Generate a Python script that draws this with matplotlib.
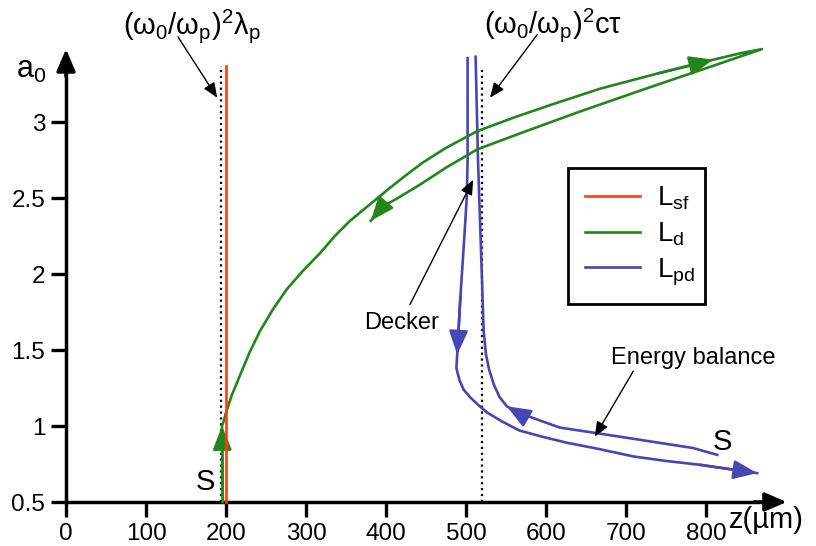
import matplotlib.pyplot as plt

plt.rcParams['font.family'] = ['Liberation Sans', 'DejaVu Sans']
plt.rcParams['mathtext.default'] = 'regular'

# axis ticks
x_ticks = [0, 100, 200, 300, 400, 500, 600, 700, 800]
y_ticks = [0.5, 1, 1.5, 2, 2.5, 3]
y_tick_labels = ['0.5', '1', '1.5', '2', '2.5', '3']

# L_sf (red) : vertical line at the self-focusing length
sf_z = [200, 200]
sf_a = [0.5, 3.37]

# dotted reference lines: (w0/wp)^2 lambda_p and (w0/wp)^2 c tau
ref1_z = [194, 194]
ref1_a = [0.5, 3.37]
ref2_z = [520, 520]
ref2_a = [0.5, 3.35]

# L_d (green) : goes up from S, out to the tip, and back
green_z = [196, 195, 197, 199, 207, 218, 230, 243, 259, 276, 296, 318, 336, 355, 378,
           401, 420, 445, 475, 514, 560, 610, 668, 740, 809, 845, 870,
           809, 725, 643, 575, 514, 475, 443, 418, 395, 381]
green_a = [0.5, 1.00, 1.03, 1.07, 1.20, 1.34, 1.49, 1.63, 1.77, 1.90, 2.02, 2.14, 2.25, 2.35, 2.45,
           2.55, 2.63, 2.73, 2.83, 2.94, 3.03, 3.12, 3.22, 3.32, 3.41, 3.455, 3.48,
           3.37, 3.22, 3.07, 2.94, 2.82, 2.70, 2.59, 2.51, 2.44, 2.35]
green_heads = [1, 24, 36]

# L_pd (blue) : downward branch
pd1_z = [502, 502, 501, 498, 496, 493, 489, 488, 492, 497, 505, 515, 526, 545, 567, 595,
         626, 665, 709, 750, 792, 864]
pd1_a = [3.42, 2.75, 2.51, 2.25, 2.09, 1.85, 1.47, 1.38, 1.30, 1.24, 1.19, 1.14, 1.09, 1.03,
         0.97, 0.93, 0.89, 0.85, 0.80, 0.77, 0.745, 0.69]
pd1_heads = [6, 21]

# L_pd (blue) : branch starting from S (energy balance)
pd2_z = [814, 784, 692, 617, 580, 564, 551, 542, 535, 529, 525, 522, 520, 515, 512]
pd2_a = [0.81, 0.855, 0.93, 0.99, 1.06, 1.09, 1.13, 1.19, 1.27, 1.37, 1.47, 1.63, 1.96, 2.75, 3.43]
pd2_heads = [6]

red = '#ff3b0f'
green = '#23861c'
blue = '#4646b4'

fig = plt.figure(figsize=(8.16, 5.46), dpi=100)
ax = fig.add_axes([0, 0, 1, 1])
ax.set_xlim(-82.5, 937.5)
ax.set_ylim(0.2105, 3.803)

# axes with arrows
ax.spines[['top', 'right']].set_visible(False)
ax.spines['left'].set_position(('data', 0))
ax.spines['bottom'].set_position(('data', 0.5))
ax.spines['left'].set_bounds(0.5, 3.35)
ax.spines['bottom'].set_bounds(0, 870)
for s in ['left', 'bottom']:
    ax.spines[s].set_linewidth(2.5)
    ax.spines[s].set_capstyle('projecting')
ax.set_xticks(x_ticks)
ax.set_yticks(y_ticks)
ax.set_yticklabels(y_tick_labels)
ax.tick_params(length=11, width=2.4, labelsize=17.5, direction='out', pad=4)

axis_arrow = dict(arrowstyle='-|>,head_length=0.7,head_width=0.3', mutation_scale=19,
                  color='k', lw=2.5, shrinkA=0, shrinkB=0)
ax.annotate('', xy=(0, 3.48), xytext=(0, 3.3), arrowprops=axis_arrow, annotation_clip=False)
ax.annotate('', xy=(901, 0.5), xytext=(860, 0.5), arrowprops=axis_arrow, annotation_clip=False)

ax.text(-62, 3.29, 'a$_0$', fontsize=22, ha='left', va='baseline')
ax.text(828, 0.33, 'z(µm)', fontsize=21, ha='left', va='baseline')

# curves
ax.plot(ref1_z, ref1_a, color='k', ls=':', lw=1.6, zorder=2)
ax.plot(ref2_z, ref2_a, color='k', ls=':', lw=1.6, zorder=2)
ax.plot(pd1_z, pd1_a, color=blue, lw=1.9, zorder=3, label='L$_{pd}$')
ax.plot(pd2_z, pd2_a, color=blue, lw=1.9, zorder=3)
ax.plot(green_z, green_a, color=green, lw=1.9, zorder=4, label='L$_d$')
ax.plot(sf_z, sf_a, color=red, lw=1.9, zorder=5, label='L$_{sf}$')


def head(zs, as_, i, color, z):
    ax.annotate('', xy=(zs[i], as_[i]), xytext=(zs[i - 1], as_[i - 1]),
                arrowprops=dict(arrowstyle='-|>,head_length=0.8,head_width=0.32',
                                mutation_scale=18, color=color, lw=1.9,
                                shrinkA=0, shrinkB=0), zorder=z)


for i in green_heads:
    head(green_z, green_a, i, green, 4)
for i in pd1_heads:
    head(pd1_z, pd1_a, i, blue, 3)
for i in pd2_heads:
    head(pd2_z, pd2_a, i, blue, 3)

# labels and pointers
thin = dict(arrowstyle='-|>,head_length=0.6,head_width=0.25', mutation_scale=15,
            color='k', lw=1.0, shrinkA=0, shrinkB=0)
ax.text(157, 3.63, '(ω$_0$/ω$_p$)$^2$λ$_p$', fontsize=21, ha='center', va='center')
ax.annotate('', xy=(189, 3.16), xytext=(140, 3.56), arrowprops=thin)
ax.text(609, 3.64, '(ω$_0$/ω$_p$)$^2$cτ', fontsize=21, ha='center', va='center')
ax.annotate('', xy=(530, 3.16), xytext=(589, 3.575), arrowprops=thin)
ax.text(420, 1.68, 'Decker', fontsize=17, ha='center', va='center')
ax.annotate('', xy=(509, 2.62), xytext=(430, 1.80), arrowprops=thin)
ax.text(784, 1.45, 'Energy balance', fontsize=17, ha='center', va='center')
ax.annotate('', xy=(661, 0.93), xytext=(709, 1.36), arrowprops=thin)
ax.text(174, 0.63, 'S', fontsize=21, ha='center', va='center')
ax.text(821, 0.895, 'S', fontsize=21, ha='center', va='center')

handles, labels = ax.get_legend_handles_labels()
order = [2, 1, 0]
leg = ax.legend([handles[k] for k in order], [labels[k] for k in order],
                loc='upper left',
                bbox_to_anchor=(568 / 816, 1 - 168 / 546 - 0.01, 137 / 816, 0.01),
                bbox_transform=fig.transFigure, mode='expand', fontsize=20,
                fancybox=False, edgecolor='k', framealpha=1, borderaxespad=0,
                borderpad=0.6, handlelength=2.0, handletextpad=0.6, labelspacing=0.3)
leg.get_frame().set_linewidth(2)

fig.savefig('out.png', dpi=100)
